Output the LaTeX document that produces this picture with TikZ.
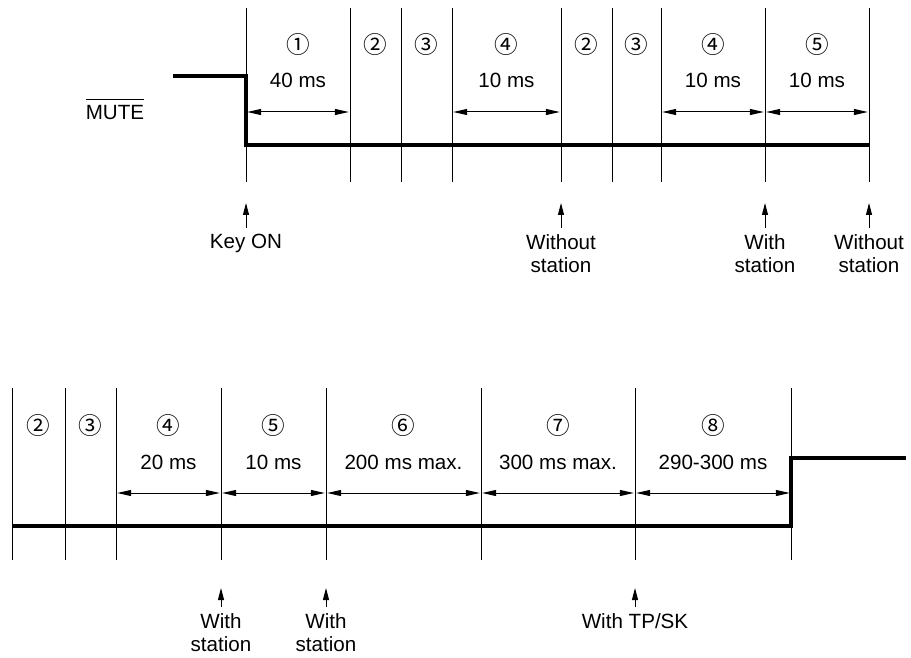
\documentclass[tikz,border=0pt]{standalone}
\usepackage{fontspec}
\setmainfont{Liberation Sans}
\newfontfamily\circfont{Noto Sans CJK SC}
\usepackage{tikz}
\usetikzlibrary{calc,arrows.meta,positioning}

\begin{document}
\begin{tikzpicture}[x=0.5pt,y=-0.5pt,
  tickline/.style={line width=0.5pt},
  mutesig/.style={line width=1.6pt, line join=miter},
  dimarrow/.style={line width=0.5pt, {Triangle[length=7pt,width=3pt]}-{Triangle[length=7pt,width=3pt]}, shorten <=0.6pt, shorten >=0.6pt},
  evarrow/.style={line width=0.5pt, -{Triangle[length=6pt,width=3pt]}},
  numlbl/.style={font=\circfont\fontsize{11.8}{13}\selectfont, inner sep=0pt},
  timelbl/.style={font=\fontsize{10.3}{12}\selectfont, inner sep=0pt},
  evlbl/.style={font=\fontsize{10.3}{11.5}\selectfont, align=center, inner sep=3pt, anchor=north}]
\useasboundingbox (0,0) rectangle (911,658);

% upper row
\foreach \x [count=\i] in {246,350,401,452,561,612,661,765,869}
  \draw[tickline] (\x,8) coordinate (a\i) -- (\x,182);

\foreach \i/\j/\n in {1/2/①,2/3/②,3/4/③,4/5/④,5/6/②,6/7/③,7/8/④,8/9/⑤}
  \node[numlbl] (na\i) at ($(a\i)!0.5!(a\j)+(0,37)$) {\n};

\foreach \i/\j/\t in {1/2/40 ms,4/5/10 ms,7/8/10 ms,8/9/10 ms}{
  \node[timelbl] (ta\i) at ($(a\i)!0.5!(a\j)+(0,72)$) {\t};
  \draw[dimarrow] ($(a\i)+(0,104)$) -- ($(a\j)+(0,104)$);
}

\node[timelbl] (mute) at (115,109) {$\overline{\mbox{\rule{0pt}{8.8pt}MUTE}}$};
\coordinate (mhigh) at (173,76);
\draw[mutesig] (mhigh) -- (a1 |- mhigh) -- ($(a1)+(0,137)$) -- ($(a9)+(0,137)$);

\foreach \i/\t in {1/Key ON,5/Without\\station,8/With\\station,9/Without\\station}{
  \node[evlbl] (ea\i) at ($(a\i)+(0,220)$) {\t};
  \draw[evarrow] (ea\i.north) -- ($(a\i)+(0,195)$);
}

% lower row
\foreach \x [count=\i] in {12,65,116,221,326,481,635,791}
  \draw[tickline] (\x,388) coordinate (b\i) -- (\x,560);

\foreach \i/\j/\n in {1/2/②,2/3/③,3/4/④,4/5/⑤,5/6/⑥,6/7/⑦,7/8/⑧}
  \node[numlbl] (nb\i) at ($(b\i)!0.5!(b\j)+(0,38)$) {\n};

\foreach \i/\j/\t in {3/4/20 ms,4/5/10 ms,5/6/200 ms max.,6/7/300 ms max.,7/8/290-300 ms}{
  \node[timelbl] (tb\i) at ($(b\i)!0.5!(b\j)+(0,74)$) {\t};
  \draw[dimarrow] ($(b\i)+(0,105)$) -- ($(b\j)+(0,105)$);
}

\coordinate (mend) at (906,458);
\draw[mutesig] ($(b1)+(0,138)$) -- ($(b8)+(0,138)$) -- (b8 |- mend) -- (mend);

\foreach \i/\t in {4/With\\station,5/With\\station,7/{With TP/SK}}{
  \node[evlbl] (eb\i) at ($(b\i)+(0,219)$) {\t};
  \draw[evarrow] (eb\i.north) -- ($(b\i)+(0,200)$);
}
\end{tikzpicture}
\end{document}
